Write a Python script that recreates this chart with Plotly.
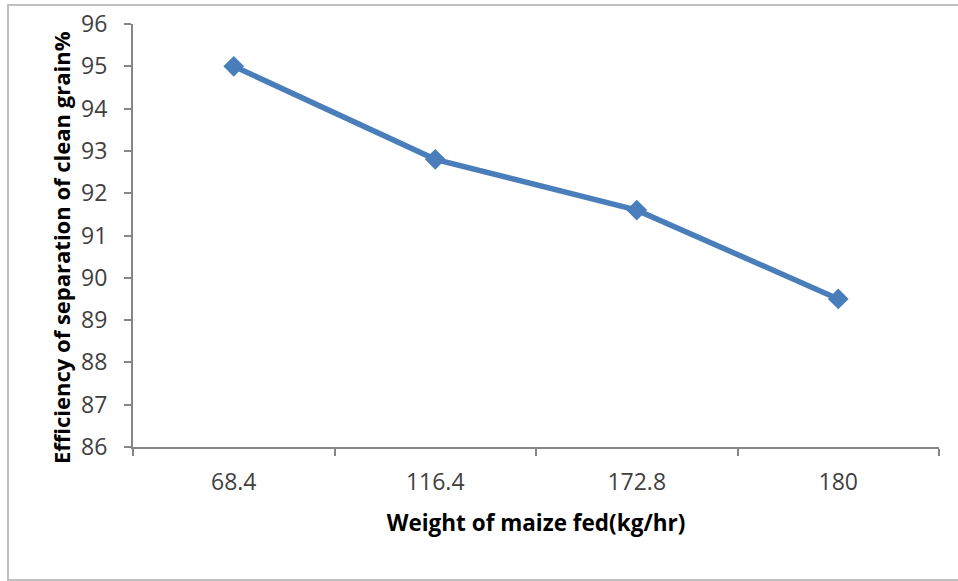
import plotly.graph_objects as go

categories = ["68.4", "116.4", "172.8", "180"]
efficiency = [95.0, 92.8, 91.6, 89.5]
y_ticks = [86, 87, 88, 89, 90, 91, 92, 93, 94, 95, 96]
x_title = "Weight of maize fed(kg/hr)"
y_title = "Efficiency of separation of clean grain%"

L, R, T, B = 133, 19, 24, 134
W, H = 958, 581
pw, ph = W - L - R, H - T - B

fig = go.Figure()
fig.add_trace(go.Scatter(
    x=categories, y=efficiency, mode="lines+markers",
    line=dict(color="#4A7EBB", width=5.5),
    marker=dict(symbol="diamond", size=16, color="#4A7EBB"),
    showlegend=False,
))

axis_col = "#868686"
fig.update_layout(
    width=W, height=H,
    margin=dict(l=L, r=R, t=T, b=B, autoexpand=False),
    paper_bgcolor="white", plot_bgcolor="white",
    font=dict(family="Open Sans, Liberation Sans, sans-serif", color="#404040"),
    xaxis=dict(
        type="category", tickson="boundaries", automargin=False,
        showline=True, linecolor=axis_col, linewidth=2,
        ticks="outside", ticklen=7, tickcolor=axis_col, tickwidth=2,
        showgrid=False, zeroline=False,
        tickfont=dict(size=23, color="#404040"),
        ticklabelstandoff=13,
        title=dict(text="<b>" + x_title + "</b>",
                   font=dict(size=22.5, color="black"), standoff=20),
        range=[-0.5, 3.5],
    ),
    yaxis=dict(
        range=[86, 96], tickvals=y_ticks, automargin=False,
        showline=True, linecolor=axis_col, linewidth=2,
        ticks="outside", ticklen=7, tickcolor=axis_col, tickwidth=2,
        showgrid=False, zeroline=False,
        tickfont=dict(size=23, color="#404040"),
        ticklabelstandoff=12,
    ),
    annotations=[dict(
        text="<b>" + y_title + "</b>", textangle=-90, showarrow=False,
        xref="paper", yref="paper",
        x=(61 - L) / pw, y=1 - (248 - T) / ph,
        xanchor="center", yanchor="middle",
        font=dict(size=22, color="black"),
    )],
    shapes=[dict(
        type="rect", xref="paper", yref="paper",
        x0=(8 - L) / pw, x1=1.1,
        y0=-(580 - (T + ph)) / ph, y1=1 + (T - 5) / ph,
        line=dict(color="#BFBFBF", width=2), fillcolor="rgba(0,0,0,0)",
        layer="below",
    )],
)

fig.write_html("out.html")
